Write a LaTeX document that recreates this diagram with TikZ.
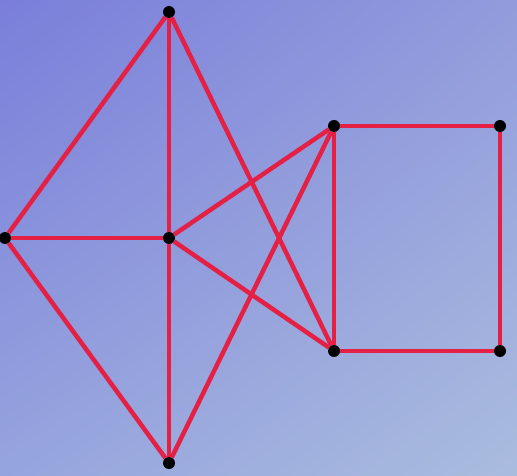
\documentclass[tikz,border=0pt]{standalone}
\usepackage{tikz}
\usetikzlibrary{shadings}

\definecolor{edgered}{RGB}{228,32,68}
\definecolor{bgtl}{RGB}{122,126,218}
\definecolor{bgtr}{RGB}{146,156,220}
\definecolor{bgbl}{RGB}{150,164,222}
\definecolor{bgbr}{RGB}{170,188,222}

\tikzset{vert/.style={circle,fill=black,inner sep=0pt,minimum size=12pt},
  edge/.style={edgered,line width=4.5pt}}

\begin{document}
\begin{tikzpicture}[x=1pt,y=-1pt]
\shade[upper left=bgtl,upper right=bgtr,lower left=bgbl,lower right=bgbr] (0,0) rectangle (517,476);
\useasboundingbox (0,0) rectangle (517,476);

\node[vert] (T) at (169,12) {};
\node[vert] (L) at (5,238) {};
\node[vert] (C) at (169,238) {};
\node[vert] (B) at (169,463) {};
\node[vert] (A) at (334,126) {};
\node[vert] (D) at (334,351) {};
\node[vert] (E) at (500,126) {};
\node[vert] (F) at (500,351) {};

\draw[edge] (T) -- (L);
\draw[edge] (T) -- (C);
\draw[edge] (T) -- (D);
\draw[edge] (L) -- (C);
\draw[edge] (L) -- (B);
\draw[edge] (C) -- (B);
\draw[edge] (C) -- (A);
\draw[edge] (C) -- (D);
\draw[edge] (B) -- (A);
\draw[edge] (A) -- (D);
\draw[edge] (A) -- (E);
\draw[edge] (E) -- (F);
\draw[edge] (D) -- (F);
\end{tikzpicture}
\end{document}
